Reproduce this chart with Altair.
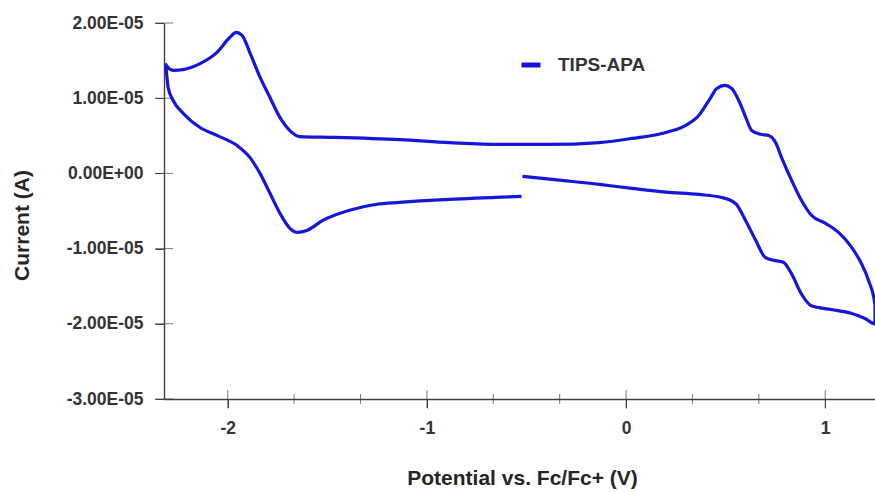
import json
import altair as alt
import pandas as pd

# ---- data read from the reference CV (potential in V, current in microamps) ----
# scan order: start near -0.52 V, sweep to +1.25 V, back to -2.31 V, then to -0.53 V
potential_v = [
    -0.52, -0.335, -0.134, 0.03, 0.20, 0.365, 0.48, 0.55, 0.60, 0.651, 0.70, 0.75,
    0.79, 0.83, 0.88, 0.93, 1.03, 1.13, 1.20, 1.25,
    1.25, 1.217, 1.182, 1.132, 1.067, 1.002, 0.932, 0.881, 0.831, 0.781, 0.751, 0.716,
    0.676, 0.631, 0.601, 0.566, 0.53, 0.496, 0.456, 0.416, 0.365, 0.30, 0.20, 0.03,
    -0.134, -0.386, -0.636, -0.886, -1.137, -1.473, -1.638, -1.688, -1.738, -1.788,
    -1.838, -1.888, -1.928, -1.958, -1.989, -2.054, -2.139, -2.224, -2.274, -2.314,
    -2.299, -2.274, -2.224, -2.139, -2.054, -1.953, -1.888, -1.838, -1.788, -1.738,
    -1.688, -1.648, -1.603, -1.523, -1.388, -1.252, -1.137, -0.886, -0.525,
]
current_uA = [
    -0.4, -0.9, -1.46, -2.0, -2.5, -2.8, -3.2, -4.0, -6.25, -8.9, -11.2, -11.6,
    -11.8, -13.3, -16.0, -17.6, -18.1, -18.6, -19.3, -20.0,
    -17.5, -14.2, -12.0, -9.8, -7.85, -6.65, -5.6, -3.6, -0.9, 2.1, 4.1, 5.05,
    5.2, 5.7, 7.45, 9.7, 11.3, 11.7, 11.3, 9.7, 7.7, 6.4, 5.45, 4.65,
    4.1, 3.85, 3.85, 4.1, 4.5, 4.8, 4.9, 5.7, 7.45, 10.1,
    12.8, 16.0, 18.35, 18.75, 18.1, 16.1, 14.6, 13.8, 13.7, 14.6,
    11.4, 9.7, 8.0, 6.1, 5.05, 3.7, 2.1, 0.0, -2.65, -5.3,
    -7.3, -7.85, -7.6, -6.25, -4.9, -4.1, -3.85, -3.45, -3.06,
]
series_name = "TIPS-APA"

x_major_ticks = [-2, -1, 0, 1]
x_major_labels = ["-2", "-1", "0", "1"]
x_minor_ticks = [-5 / 3, -4 / 3, -2 / 3, -1 / 3, 1 / 3, 2 / 3]
y_ticks = [-3e-5, -2e-5, -1e-5, 0.0, 1e-5, 2e-5]
y_labels = ["-3.00E-05", "-2.00E-05", "-1.00E-05", "0.00E+00", "1.00E-05", "2.00E-05"]

x_domain = [-2.32, 1.25]
y_domain = [-3e-5, 2e-5]

df = pd.DataFrame({
    "i": range(len(potential_v)),
    "potential": potential_v,
    "current": [c * 1e-6 for c in current_uA],
    "series": series_name,
})
df_xmaj = pd.DataFrame({"v": x_major_ticks})
df_xmin = pd.DataFrame({"v": x_minor_ticks})
df_y = pd.DataFrame({"v": y_ticks})

FONT = "Liberation Sans"
TXT = "#333333"
AX = "#404040"
BLUE = "#1616d8"

x_title = "Potential vs. Fc/Fc+ (V)"
y_title = "Current (A)"

x_scale = alt.Scale(domain=x_domain, nice=False, zero=False)
y_scale = alt.Scale(domain=y_domain, nice=False, zero=False)

x_label_expr = json.dumps(x_major_labels) + "[round(datum.value)+2]"
y_label_expr = json.dumps(y_labels) + "[round(datum.value*1e5)+3]"

x_axis = alt.Axis(
    values=x_major_ticks, labelExpr=x_label_expr, title=x_title, grid=False,
    ticks=True, tickSize=9, tickColor=AX, tickWidth=1,
    domainColor=AX, domainWidth=1.4,
    labelFont=FONT, labelFontSize=17.5, labelFontWeight="bold", labelColor=TXT,
    labelPadding=11, labelFlush=False,
    titleFont=FONT, titleFontSize=21, titleFontWeight="bold", titleColor="#262626",
    titleX=358, titleY=79, titleBaseline="middle", titleAlign="center",
)
y_axis = alt.Axis(
    values=y_ticks, labelExpr=y_label_expr, title=y_title, grid=False,
    ticks=True, tickSize=9, tickColor=AX, tickWidth=1,
    domainColor=AX, domainWidth=1.4,
    labelFont=FONT, labelFontSize=17.5, labelFontWeight="bold", labelColor=TXT,
    labelPadding=12, labelFlush=False,
    titleFont=FONT, titleFontSize=21, titleFontWeight="bold", titleColor="#262626",
    titleX=-142, titleY=202, titleAngle=270, titleBaseline="middle", titleAlign="center",
)

line = alt.Chart(df).mark_line(strokeWidth=3.2, interpolate="monotone").encode(
    x=alt.X("potential:Q", scale=x_scale, axis=x_axis, title=x_title),
    y=alt.Y("current:Q", scale=y_scale, axis=y_axis, title=y_title),
    order=alt.Order("i:Q"),
    color=alt.Color(
        "series:N",
        scale=alt.Scale(domain=[series_name], range=[BLUE]),
        legend=alt.Legend(
            title=None, orient="none", legendX=355, legendY=30, padding=0,
            symbolType="stroke", symbolStrokeWidth=5, symbolSize=361,
            labelFont=FONT, labelFontSize=19, labelFontWeight="bold",
            labelColor=TXT, labelOffset=15,
        ),
    ),
)

xmaj = alt.Chart(df_xmaj).mark_tick(orient="vertical", size=18, thickness=1, color=AX).encode(
    x=alt.X("v:Q", scale=x_scale, title=x_title),
    y=alt.datum(y_domain[0]),
)
xmin = alt.Chart(df_xmin).mark_tick(orient="vertical", size=10, thickness=1, color=AX).encode(
    x=alt.X("v:Q", scale=x_scale, title=x_title),
    y=alt.datum(y_domain[0]),
)
yt = alt.Chart(df_y).mark_tick(orient="horizontal", size=18, thickness=1, color=AX).encode(
    y=alt.Y("v:Q", scale=y_scale, title=y_title),
    x=alt.datum(x_domain[0]),
)

chart = alt.layer(xmaj, xmin, yt, line).properties(
    width=711, height=376,
    padding={"left": 164, "top": 23, "right": 0, "bottom": 93},
    autosize=alt.AutoSizeParams(type="none"),
    background="white",
).configure_view(stroke=None)

chart.save("out.html", embed_options={"renderer": "svg", "actions": False})
